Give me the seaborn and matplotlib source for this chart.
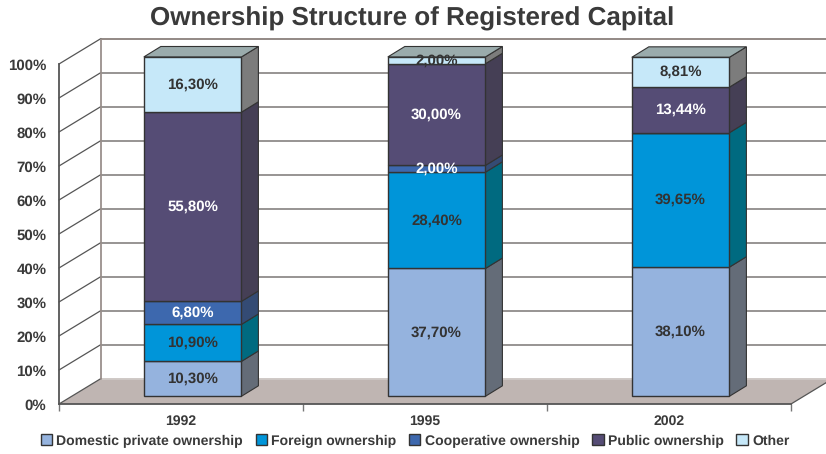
import numpy as np
import pandas as pd
import matplotlib
matplotlib.use("Agg")
import matplotlib.pyplot as plt
import seaborn as sns

years = ["1992", "1995", "2002"]
domestic = [10.30, 37.70, 38.10]
foreign = [10.90, 28.40, 39.65]
cooperative = [6.80, 2.00, 0.00]
public = [55.80, 30.00, 13.44]
other = [16.30, 2.00, 8.81]

series_names = ["Domestic private ownership", "Foreign ownership",
                "Cooperative ownership", "Public ownership", "Other"]
series_values = [domestic, foreign, cooperative, public, other]
front_colors = ["#95b3de", "#0095d9", "#3d68ae", "#554c75", "#c6e8f9"]
side_colors = ["#646c78", "#006a80", "#344b74", "#453f55", "#7c7c7c"]
label_colors = ["#333333", "#333333", "white", "white", "#333333"]
top_color = "#9aabac"
y_ticks = list(range(0, 101, 10))

W, H = 826, 454
TEXT = "#3a3a3a"
AX_L, AX_R, AX_B, AX_T = 59, 791, 404, 64
PX_X = (AX_R - AX_L) / 3
PX_Y = (AX_B - AX_T) / 100
# depth of the wall and of the bars, in data units
WALL_DX, WALL_DY = 42 / PX_X, 25.5 / PX_Y
BAR_DX, BAR_DY = 17 / PX_X, 10.5 / PX_Y
BAR_W = 0.4

sns.set_theme(style="white")
plt.rcParams["font.family"] = ["Liberation Sans", "DejaVu Sans"]
plt.rcParams["text.hinting"] = "no_hinting"
plt.rcParams["text.hinting_factor"] = 1

fig = plt.figure(figsize=(W / 100, H / 100), dpi=100)
pos = [AX_L / W, 1 - AX_B / H, (AX_R - AX_L) / W, (AX_B - AX_T) / H]
ax = fig.add_axes(pos)
ax.set_xlim(-0.5, 2.5)
ax.set_ylim(0, 100)

# floor and back wall
ax.fill([-0.5, -0.5 + WALL_DX, 2.5 + WALL_DX, 2.5], [0, WALL_DY, WALL_DY, 0],
        color="#bfb5b2", lw=0, clip_on=False, zorder=1)
for t in y_ticks:
    if t == 100:
        c = "#8a807c"
    elif t:
        c = "#8f8b8a"
    else:
        c = "#cfc9c6"
    ax.plot([-0.5 + WALL_DX, 2.9], [t + WALL_DY] * 2, color=c, lw=1.3, clip_on=False, zorder=2)
    ax.plot([-0.5, -0.5 + WALL_DX], [t, t + WALL_DY], color="#555555", lw=0.9, clip_on=False, zorder=2)
ax.plot([-0.5 + WALL_DX] * 2, [WALL_DY, 100 + WALL_DY], color="#9a908c", lw=1.3, clip_on=False, zorder=2)
ax.plot([2.5, 2.5 + WALL_DX], [0, WALL_DY], color="#555555", lw=0.9, clip_on=False, zorder=2)

sns.despine(ax=ax)
for side in ["left", "bottom"]:
    ax.spines[side].set_color("#555555")
    ax.spines[side].set_linewidth(1.3)
ax.set_xticks([0, 1, 2], years)
ax.set_xticks([-0.5, 0.5, 1.5, 2.5], minor=True)
ax.tick_params(axis="x", which="major", length=0, pad=8, labelsize=10, labelcolor=TEXT)
ax.tick_params(axis="x", which="minor", bottom=True, length=5, width=1, color="#777777")
ax.set_yticks(y_ticks, [f"{t}%" for t in y_ticks])
ax.tick_params(axis="y", length=0, pad=9, labelsize=10.5, labelcolor=TEXT)
for lab in ax.get_xticklabels() + ax.get_yticklabels():
    lab.set_fontweight("bold")

# the bars stand in the middle of the floor
bar_pos = [(AX_L + 11.6) / W, 1 - 396.3 / H, pos[2], 339 / H]
bx = fig.add_axes(bar_pos)
bx.patch.set_alpha(0)

bottoms = np.zeros(len(years))
for name, vals, fc, sc, lc in zip(series_names, series_values, front_colors, side_colors, label_colors):
    vals = np.array(vals)
    df = pd.DataFrame({"year": years, "share": vals})
    sns.barplot(data=df, x="year", y="share", bottom=bottoms, color=fc, saturation=1,
                width=BAR_W, edgecolor="#333333", linewidth=1, label=name, ax=bx, zorder=3)
    for i, (b, v) in enumerate(zip(bottoms, vals)):
        if v == 0:
            continue
        xr = i + BAR_W / 2
        bx.fill([xr, xr + BAR_DX, xr + BAR_DX, xr], [b, b + BAR_DY, b + v + BAR_DY, b + v],
                facecolor=sc, edgecolor="#333333", lw=0.8, clip_on=False, zorder=2)
    labels = [f"{v:.2f}%".replace(".", ",") if v else "" for v in vals]
    bx.bar_label(bx.containers[-1], labels=labels, label_type="center", color=lc,
                 fontsize=10.5, fontweight="bold", zorder=5)
    bottoms = bottoms + vals

for i, t in enumerate(bottoms):
    xl, xr = i - BAR_W / 2, i + BAR_W / 2
    bx.fill([xl, xr, xr + BAR_DX, xl + BAR_DX], [t, t, t + BAR_DY, t + BAR_DY],
            facecolor=top_color, edgecolor="#333333", lw=0.8, clip_on=False, zorder=2)

bx.set_xlim(-0.5, 2.5)
bx.set_ylim(0, 100)
for c in bx.containers:
    for p in c:
        p.set_clip_on(False)
for t in bx.texts:
    t.set_clip_on(False)
handles, names = bx.get_legend_handles_labels()
if bx.get_legend():
    bx.get_legend().remove()
bx.axis("off")

fig.legend(handles, names, loc="center", bbox_to_anchor=(415 / W, 1 - 441 / H), ncol=5, frameon=False,
           handlelength=0.8, handleheight=0.8, handletextpad=0.3, columnspacing=0.9,
           labelcolor=TEXT, prop={"weight": "bold", "size": 10.2})
fig.text(412 / W, 1 - 19 / H, "Ownership Structure of Registered Capital", ha="center", va="center",
         fontsize=18.5, fontweight="bold", color=TEXT)

fig.savefig("out.png", dpi=100)
